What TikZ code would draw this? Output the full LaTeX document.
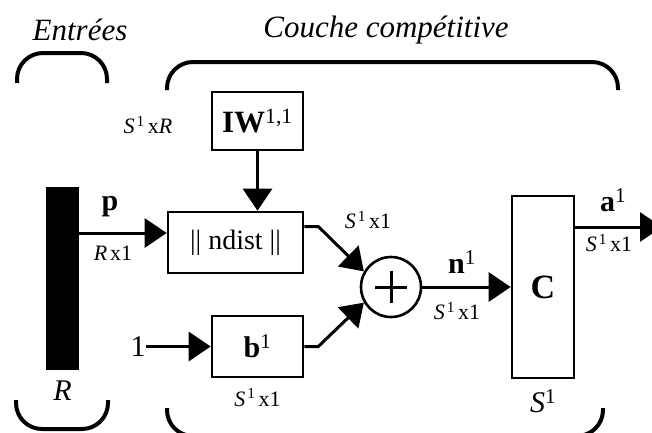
\documentclass[tikz,border=0pt]{standalone}
\usepackage{fontspec}
\setmainfont{Liberation Serif}
\usetikzlibrary{positioning,arrows.meta}
\tikzset{
  blk/.style={draw,line width=2.6pt,fill=white,inner sep=0pt,align=center},
  wire/.style={-{Triangle[length=22pt,width=29pt]},line width=3pt},
  brace/.style={line width=4pt,rounded corners=26pt},
  dimlbl/.style={font=\fontsize{22}{25}\selectfont,inner sep=0pt},
  siglbl/.style={font=\fontsize{30}{34}\selectfont\bfseries,inner sep=0pt},
  ttl/.style={font=\fontsize{31}{36}\selectfont\itshape,inner sep=0pt},
}
\newcommand{\sOne}{\textit{S}\kern2pt\textsuperscript{1}\kern3pt}

\begin{document}
\begin{tikzpicture}[x=1pt,y=-1pt,node distance=10pt]
  \useasboundingbox (0,0) rectangle (652,432);
  \clip (0,0) rectangle (652,432);
  \node[ttl] (tin)  at (80,30)  {Entrées};
  \node[ttl] (tlay) at (386,30) {Couche compétitive};
  % brackets
  \draw[brace] (17,83) -- (17,53) -- (107,53) -- (107,83);
  \draw[brace] (167,90) -- (167,62) -- (618,62) -- (618,90);
  \draw[brace] (16,400) -- (16,429) -- (108,429) -- (108,400);
  \draw[brace] (167,408) -- (167,436) -- (603,436) -- (603,408);
  % blocks
  \node[fill=black,inner sep=0pt,minimum width=33pt,minimum height=183pt] (pvec) at (62.5,278.5) {};
  \node[blk,minimum width=135pt,minimum height=61pt,font=\fontsize{28}{32}\selectfont] (dist) at (235.5,242.5) {|| ndist ||};
  \node[blk,minimum width=91pt,minimum height=58pt,font=\fontsize{31}{34}\selectfont] (iw) at (257.5,121) {\textbf{IW}\textsuperscript{1,1}};
  \node[blk,minimum width=91pt,minimum height=61pt,font=\fontsize{30}{34}\selectfont] (bias) at (257.5,346.5) {\textbf{b}\textsuperscript{1}};
  \node[blk,circle,minimum size=60pt] (sum) at (391,287) {};
  \draw[line width=3pt] ([xshift=-16pt]sum.center) -- ([xshift=16pt]sum.center)
                        ([yshift=-16pt]sum.center) -- ([yshift=16pt]sum.center);
  \node[blk,minimum width=62pt,minimum height=182pt,font=\fontsize{34}{38}\selectfont] (comp) at (543,287) {\textbf{C}};
  \node[inner sep=0pt,font=\fontsize{30}{34}\selectfont] (one) at (138,346.5) {1};
  % wires
  \coordinate (pin) at ([yshift=9.5pt]dist.west);
  \coordinate (aout) at (662,227);
  \draw[wire] (pvec.east |- pin) -- (pin);
  \draw[wire] (iw) -- (iw |- dist.north);
  \draw[wire] (one) -- (bias);
  \draw[wire] ([yshift=16pt]dist.east) -- ++(14,0) -- (sum.150);
  \draw[wire] (bias.east) -- ++(14,0) -- (sum.210);
  \draw[wire] (sum) -- (comp);
  \draw[wire] (comp.east |- aout) -- (aout);
  % labels
  \node[siglbl] (lp)   at (110,207) {p};
  \node[dimlbl] (lRx1) at (113,253) {\textit{R}\kern3pt x1};
  \node[dimlbl] (lSxR) at (148,125) {\sOne x\textit{R}};
  \node[dimlbl,below=of bias] (lSb) {\sOne x1};
  \node[dimlbl] (lSd)  at (368,220) {\sOne x1};
  \node[siglbl] (ln)   at (462,262) {n\textsuperscript{\mdseries 1}};
  \node[dimlbl] (lSn)  at (457,311) {\sOne x1};
  \node[siglbl] (la)   at (613,200) {a\textsuperscript{\mdseries 1}};
  \node[dimlbl] (lSa)  at (609,243) {\sOne x1};
  \node[inner sep=0pt,font=\fontsize{30}{34}\selectfont\itshape,below=of pvec] (lR) {R};
  \node[inner sep=0pt,font=\fontsize{30}{34}\selectfont,below=of comp] (lS) {\textit{S}\textsuperscript{1}};
\end{tikzpicture}
\end{document}
